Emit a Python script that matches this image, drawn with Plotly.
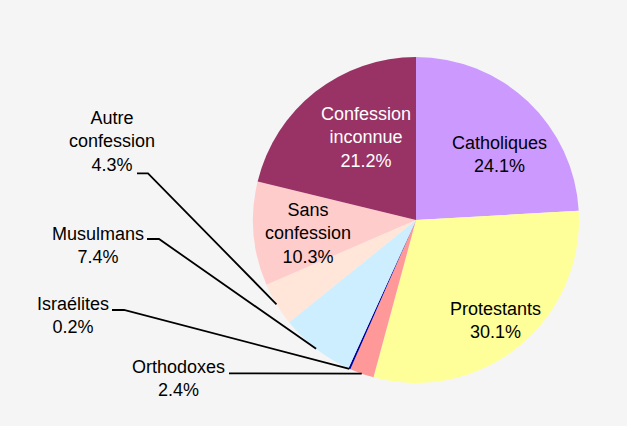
import math
import plotly.graph_objects as go

# ---- data ----
labels = ["Catholiques", "Protestants", "Orthodoxes", "Israélites", "Musulmans",
          "Autre confession", "Sans confession", "Confession inconnue"]
values = [24.1, 30.1, 2.4, 0.2, 7.4, 4.3, 10.3, 21.2]
colors = ["#cc99ff", "#ffff99", "#ff9999", "#000099", "#cceeff",
          "#ffe6d9", "#ffcccc", "#993366"]
label_text = ["Catholiques", "Protestants", "Orthodoxes", "Israélites", "Musulmans",
              "Autre<br>confession", "Sans<br>confession", "Confession<br>inconnue"]

# ---- layout constants (pixels) ----
W, H = 627, 426
CX, CY, R = 416, 220, 163
FONT = "Liberation Sans, Arial, Helvetica, sans-serif"
FS = 18

def px(x):
    return x / W

def py(y):
    return 1 - y / H

fig = go.Figure()
fig.add_trace(go.Pie(
    labels=labels, values=values, sort=False, direction="clockwise", rotation=0,
    marker=dict(colors=colors, line=dict(width=0)),
    textinfo="none", hoverinfo="label+percent", showlegend=False,
    domain=dict(x=[px(CX - R), px(CX + R)], y=[py(CY + R), py(CY - R)]),
))

total = sum(values)

def pct(i):
    return f"{values[i]:.1f}%"

# inside labels: index -> (x, y, colour)
inside = {
    0: (499, 154, "black"),
    1: (496, 320, "black"),
    6: (307.5, 233, "black"),
    7: (365.5, 137, "white"),
}
# outside labels: index -> (x, y, elbow start x, elbow end x, elbow y)
outside = {
    5: (112, 142, 137, 148, 173.3),
    4: (98, 245.7, 147, 159, 239),
    3: (72.5, 315.7, 112, 124, 310),
    2: (178, 378.3, 229, 240, 373.3),
}

annotations = []
shapes = []
for i, (x, y, c) in inside.items():
    annotations.append(dict(x=px(x), y=py(y), xref="paper", yref="paper",
                            text=f"{label_text[i]}<br>{pct(i)}", showarrow=False,
                            xanchor="center", yanchor="middle",
                            font=dict(family=FONT, size=FS, color=c)))

cum = [sum(values[:i]) for i in range(len(values))]
for i, (x, y, x0, x1, ly) in outside.items():
    annotations.append(dict(x=px(x), y=py(y), xref="paper", yref="paper",
                            text=f"{label_text[i]}<br>{pct(i)}", showarrow=False,
                            xanchor="center", yanchor="middle",
                            font=dict(family=FONT, size=FS, color="black")))
    ang = 2 * math.pi * (cum[i] + values[i] / 2) / total
    ex = CX + R * math.sin(ang)
    ey = CY - R * math.cos(ang)
    path = f"M {px(x0)} {py(ly)} L {px(x1)} {py(ly)} L {px(ex)} {py(ey)}"
    shapes.append(dict(type="path", xref="paper", yref="paper", path=path,
                       line=dict(color="black", width=1.8)))

fig.update_layout(
    width=W, height=H, margin=dict(l=0, r=0, t=0, b=0),
    paper_bgcolor="#f5f5f5", plot_bgcolor="#f5f5f5",
    annotations=annotations, shapes=shapes,
)
fig.write_html("out.html", config={"displayModeBar": False},
               post_script="document.body.style.margin='0';document.body.style.overflow='hidden';")
